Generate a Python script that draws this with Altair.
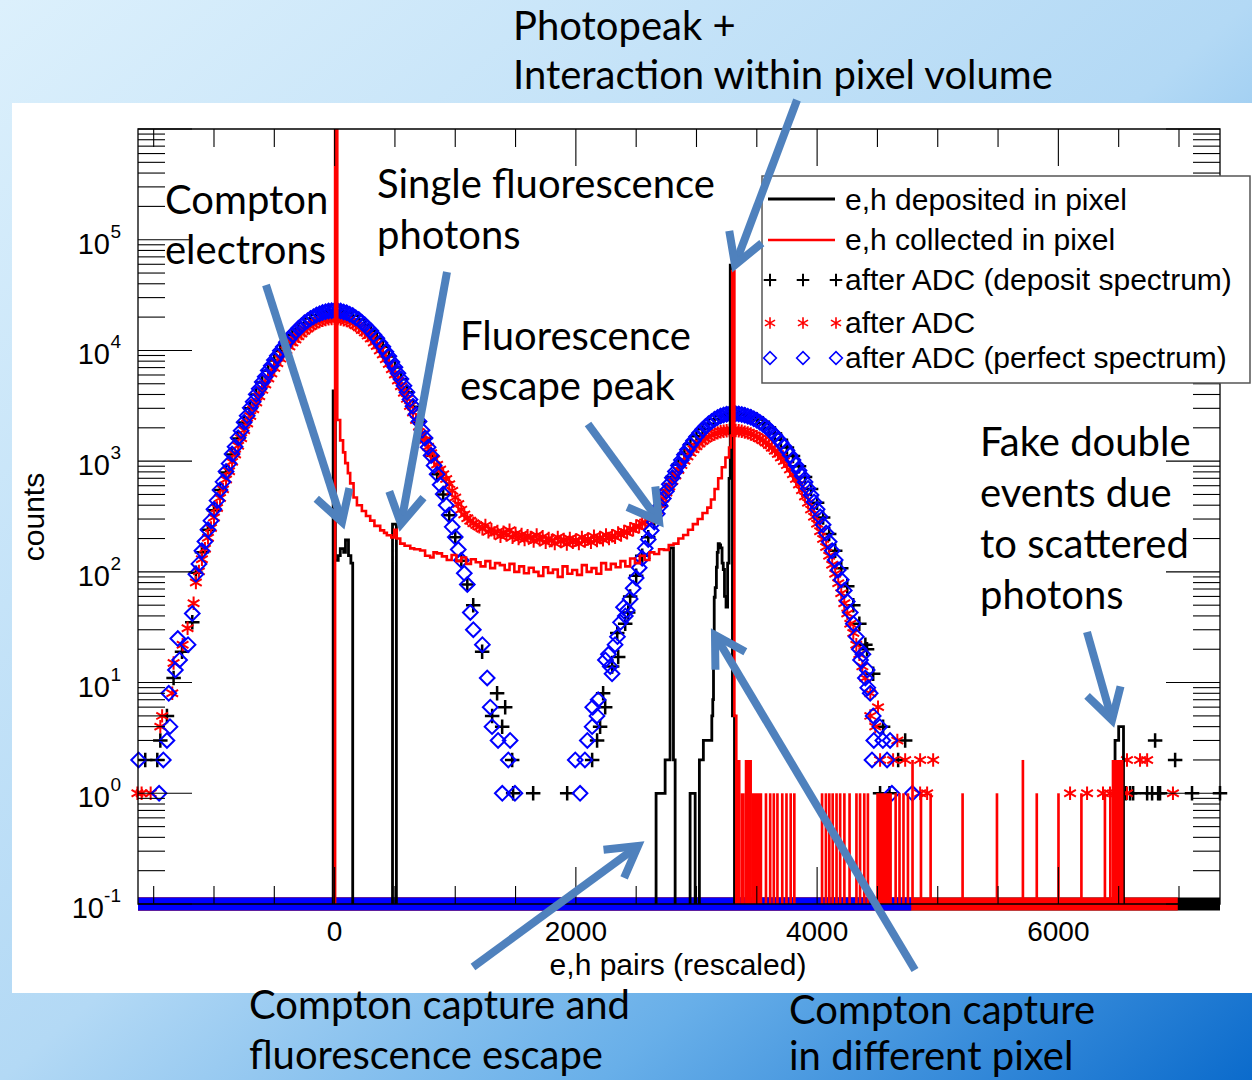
import math
import altair as alt
import pandas as pd

# ------------------------------------------------------------------
# Spectra (x: e,h pairs rescaled, y: counts)
# ------------------------------------------------------------------

# e,h deposited in pixel -- histogram bin left edges and counts
deposited_edges = [-1630, -12, 6, 30, 47, 75, 90, 115, 135, 150, 480, 512,
                   2665, 2740, 2781, 2809, 2823, 2947, 2989, 3024, 3057, 3127,
                   3135, 3141, 3147, 3155, 3165, 3172, 3180, 3190, 3200, 3212,
                   3222, 3232, 3245, 3258, 3270, 3280, 3298, 3315, 6470, 6500,
                   6540, 7340]
deposited_counts = [0, 4300, 127, 140, 162, 150, 194, 140, 120, 0, 270, 0,
                    1, 2, 165, 2, 0, 1, 0, 2, 3, 5,
                    7, 28, 59, 72, 110, 150, 180, 175, 165, 120,
                    105, 60, 48, 120, 700, 59000, 5, 0, 3, 4,
                    0, 0]

# e,h collected in pixel -- histogram bin left edges and counts
collected_edges = [-1630, 4, 22, 46, 70, 88, 110, 129, 157, 185, 226, 260, 295,
                   330, 378, 410, 433, 470, 495, 515, 544, 580, 627, 660, 709,
                   750, 792, 820, 848, 890, 930, 970, 1010, 1050, 1090, 1130,
                   1170, 1210, 1250, 1290, 1330, 1370, 1410, 1450, 1490, 1530,
                   1570, 1610, 1650, 1690, 1730, 1770, 1810, 1850, 1890, 1930,
                   1970, 2010, 2050, 2090, 2130, 2170, 2210, 2250, 2290, 2330,
                   2370, 2410, 2450, 2490, 2530, 2570, 2610, 2650, 2690, 2730,
                   2770, 2810, 2850, 2890, 2930, 2970, 3010, 3050, 3090, 3120,
                   3150, 3180, 3210, 3240, 3270, 3285, 3296, 3314, 3330, 7340]
collected_counts = [0, 2000000, 2350, 1540, 1200, 960, 780, 630, 470, 400, 355, 320, 290,
                    260, 237, 225, 214, 205, 240, 200, 180, 172, 163, 160, 156,
                    140, 135, 150, 147, 138, 128, 142, 125, 135, 118, 130,
                    122, 112, 125, 108, 120, 115, 104, 118, 100, 112,
                    97, 109, 100, 92, 110, 98, 105, 90, 112, 96,
                    104, 94, 115, 100, 108, 96, 120, 105, 118, 110,
                    125, 112, 132, 120, 140, 128, 150, 145, 160, 158,
                    175, 180, 200, 215, 240, 270, 300, 340, 380, 450,
                    560, 700, 880, 1080, 1330, 1700, 52000, 5, 0, 0]

# sparse single / double counts of the collected spectrum above the photopeak
grass_lo = [3330, 3365, 3400, 3460,
            3565, 3600, 3630, 3660, 3700, 3735, 3770, 3800,
            4030, 4062, 4090, 4118, 4150, 4180, 4215, 4258,
            4315, 4345, 4380, 4410,
            4490, 4640, 4672, 4705, 4742, 4780,
            4850, 4930, 5195, 5480, 5695, 5810, 5990, 6180, 6375, 6420, 6442]
grass_hi = [3365, 3400, 3460, 3545,
            3587, 3622, 3652, 3682, 3722, 3757, 3792, 3822,
            4052, 4084, 4112, 4140, 4172, 4202, 4237, 4280,
            4337, 4367, 4402, 4432,
            4620, 4662, 4694, 4727, 4764, 4802,
            4872, 4952, 5217, 5502, 5717, 5832, 6012, 6202, 6397, 6442, 6540]
grass_counts = [2, 1, 2, 1,
                1, 1, 1, 1, 1, 1, 1, 1,
                1, 1, 1, 1, 1, 1, 1, 1,
                1, 1, 1, 1,
                1, 1, 1, 1, 1, 2,
                1, 1, 1, 1, 2, 1, 1, 1, 1, 1, 2]

# after ADC (perfect spectrum)
perfect_x = [-1625, -1455, -1420, -1390, -1365, -1375, -1320, -1285, -1300, -1215, -1180,
             -1150, -1125, -1100, -1075, -1050, -1025, -1000, -975, -950, -925, -900,
             -875, -850, -825, -800, -775, -750, -725, -700, -675, -650, -625, -600,
             -575, -550, -525, -500, -475, -450, -425, -400, -375, -350, -325, -300,
             -275, -250, -225, -200, -175, -150, -125, -100, -75, -50, -25, 0,
             25, 50, 75, 100, 125, 150, 175, 200, 225, 250, 275, 300, 325, 350,
             375, 400, 425, 450, 475, 500, 525, 550, 575, 600, 625, 650, 675, 700,
             725, 750, 775, 800, 825, 850, 875, 900, 925, 950, 975, 1000, 1025,
             1050, 1075, 1100,
             1125, 1150, 1225, 1265, 1290, 1305, 1355, 1455, 1440, 1390, 1495,
             1995, 2035, 2075, 2095, 2135, 2140, 2175, 2185, 2245, 2270, 2285,
             2300, 2325, 2345, 2370, 2395, 2410,
             2425, 2450, 2475, 2500, 2525, 2550, 2575, 2600, 2625, 2650, 2675,
             2700, 2725, 2750, 2775, 2800, 2825, 2850, 2875, 2900, 2925, 2950,
             2975, 3000, 3025, 3050, 3075, 3100, 3125, 3150, 3175, 3200, 3225,
             3250, 3275, 3300, 3325, 3350, 3375, 3400, 3425, 3450, 3475, 3500,
             3525, 3550, 3575, 3600, 3625, 3650, 3675, 3700, 3725, 3750, 3775,
             3800, 3825, 3850, 3875, 3900, 3925, 3950, 3975, 4000, 4025, 4050,
             4075, 4100, 4125, 4150, 4175, 4200, 4225, 4250, 4275, 4300,
             4325, 4350, 4360, 4380, 4400, 4415, 4420, 4440, 4455, 4465, 4470,
             4520, 4545, 4580, 4605, 4620, 4790]
perfect_counts = [2, 1, 2, 3, 4, 8, 13, 16, 25, 22, 42,
                  95, 118, 155, 188, 240, 290, 368, 440, 550, 650, 805,
                  950, 1160, 1350, 1630, 1880, 2250, 2570, 3030, 3440, 4010, 4500, 5190,
                  5780, 6580, 7260, 8180, 8940, 9950, 10780, 11860, 12730, 13850, 14720, 15830,
                  16680, 17740, 18500, 19460, 20110, 20920, 21400, 22030, 22330, 22720, 22800, 22950,
                  22790, 22680, 22260, 21890, 21230, 20640, 19780, 19010, 17990, 17100, 15980, 15020, 13870, 12890,
                  11760, 10790, 9730, 8840, 7870, 7060, 6210, 5510, 4790, 4200, 3610, 3130, 2650, 2280,
                  1900, 1620, 1335, 1125, 915, 762, 612, 504, 400, 327, 255, 206, 159,
                  127, 97, 77,
                  43, 30, 22, 11, 6, 4, 3, 3, 2, 1, 1,
                  2, 1, 2, 3, 4, 6, 5, 7, 16, 18, 14,
                  12, 22, 26, 35, 48, 40,
                  45, 57, 71, 88, 109, 133, 163, 196, 236, 282, 334,
                  394, 460, 535, 618, 708, 807, 912, 1026, 1145, 1270, 1400,
                  1531, 1663, 1798, 1928, 2055, 2173, 2285, 2388, 2477, 2553, 2612,
                  2655, 2683, 2692, 2685, 2668, 2641, 2600, 2550, 2489, 2417, 2336,
                  2247, 2150, 2046, 1938, 1826, 1711, 1594, 1476, 1360, 1246, 1134,
                  1026, 923, 825, 733, 647, 567, 494, 427, 367, 314, 266,
                  224, 187, 155, 128, 104, 85, 68, 54, 43, 34,
                  26, 20, 16, 18, 11, 13, 9, 8, 2, 5, 3,
                  4, 3, 2, 3, 1, 1]

# after ADC (collected spectrum)
collected_adc_x = [-1635, -1600, -1525, -1445, -1430, -1346, -1335, -1260, -1219, -1169,
                   -1150, -1125, -1100, -1075, -1050, -1025, -1000, -975, -950, -925, -900,
                   -875, -850, -825, -800, -775, -750, -725, -700, -675, -650, -625, -600,
                   -575, -550, -525, -500, -475, -450, -425, -400, -375, -350, -325, -300,
                   -275, -250, -225, -200, -175, -150, -125, -100, -75, -50, -25, 0,
                   25, 50, 75, 100, 125, 150, 175, 200, 225, 250, 275, 300, 325, 350,
                   375, 400, 425, 450, 475, 500, 525, 550, 575, 600, 625, 650, 675, 700,
                   725, 750, 775, 800, 825, 850, 875, 900, 925, 950, 975, 1000, 1025,
                   1050, 1075, 1100, 1125, 1150, 1175, 1200,
                   1225, 1250, 1275, 1300, 1325, 1350, 1375, 1400, 1425, 1450, 1475,
                   1500, 1525, 1550, 1575, 1600, 1625, 1650, 1675, 1700, 1725, 1750,
                   1775, 1800, 1825, 1850, 1875, 1900, 1925, 1950, 1975, 2000, 2025,
                   2050, 2075, 2100, 2125, 2150, 2175, 2200, 2225, 2250, 2275, 2300,
                   2325, 2350, 2375, 2400, 2425, 2450, 2475, 2500, 2525, 2550, 2575,
                   2600, 2625, 2650, 2675, 2700, 2725, 2750, 2775, 2800, 2825, 2850,
                   2875, 2900, 2925, 2950, 2975, 3000, 3025, 3050, 3075, 3100, 3125,
                   3150, 3175, 3200, 3225, 3250, 3275, 3300, 3325, 3350, 3375, 3400,
                   3425, 3450, 3475, 3500, 3525, 3550, 3575, 3600, 3625, 3650, 3675,
                   3700, 3725, 3750, 3775, 3800, 3825, 3850, 3875, 3900, 3925, 3950,
                   3975, 4000, 4025, 4050, 4075, 4100, 4125, 4150, 4175, 4200, 4225,
                   4250, 4275, 4300, 4325, 4350, 4375, 4400,
                   4441, 4441, 4482, 4505, 4522, 4630, 4665, 4730, 4854, 4854, 4912, 4962,
                   6097, 6238, 6370, 6428, 6486, 6569, 6569, 6677, 6736, 6950]
collected_adc_counts = [1, 1, 1, 4, 5, 8, 15, 22, 31, 52,
                        80, 101, 130, 162, 203, 249, 310, 377, 465, 556, 682,
                        810, 985, 1150, 1380, 1610, 1900, 2190, 2560, 2940, 3390, 3850, 4400,
                        4930, 5570, 6200, 6930, 7640, 8430, 9200, 10050, 10850, 11800, 12550, 13400,
                        14200, 15050, 15750, 16500, 17150, 17750, 18250, 18700, 19000, 19300, 19400, 19500,
                        19400, 19250, 18950, 18600, 18100, 17550, 16850, 16150, 15300, 14550, 13600, 12800, 11800, 10950,
                        10000, 9200, 8300, 7550, 6750, 6050, 5350, 4750, 4150, 3650, 3150, 2750, 2350, 2050,
                        1750, 1550, 1350, 1180, 1040, 930, 840, 760, 690, 620, 540, 470, 410,
                        365, 330, 305, 290, 275, 265, 255,
                        245, 262, 230, 240, 225, 232, 210, 228, 215, 238, 205,
                        222, 200, 218, 196, 212, 205, 190, 215, 195, 208, 185,
                        200, 192, 180, 205, 188, 196, 178, 200, 185, 194, 180,
                        205, 190, 198, 185, 210, 192, 204, 195, 215, 200, 212,
                        205, 225, 215, 232, 225, 245, 240, 260, 255, 275, 280,
                        295, 305, 330, 360, 405, 460, 520, 590, 660, 740, 830,
                        920, 1010, 1100, 1190, 1280, 1360, 1440, 1520, 1590, 1650, 1710,
                        1760, 1800, 1840, 1860, 1880, 1890, 1900, 1890, 1880, 1860, 1830,
                        1800, 1760, 1710, 1660, 1600, 1540, 1470, 1400, 1320, 1240, 1160,
                        1080, 1000, 920, 840, 760, 690, 615, 545, 480, 420, 365,
                        315, 272, 233, 198, 168, 140, 116, 96, 79, 64, 52,
                        42, 34, 28, 22, 18, 14, 11,
                        8, 5, 4, 6, 2, 2, 3, 2, 2, 1, 1, 2,
                        1, 1, 1, 1, 1, 1, 2, 2, 2, 1]

# after ADC (deposit spectrum)
deposit_adc_x = [-1570, -1470, -1445, -1390, -1335, -1265, -1180,
                 -1150, -1100, -1050, -1000, -950, -900, -850, -800, -750, -700, -650,
                 -600, -550, -500, -450, -400, -350, -300, -250, -200, -150, -100, -50,
                 0, 50, 100, 150, 200, 250, 300, 350, 400, 450, 500, 550, 600, 650,
                 700, 750, 800, 850, 900, 950, 1000, 1050, 1100,
                 1149, 1223, 1306, 1347, 1389, 1414, 1472, 1480, 1646, 1928,
                 2135, 2176, 2201, 2226, 2243, 2301, 2343, 2351, 2409, 2434,
                 2450, 2500, 2550, 2600, 2650, 2700, 2750, 2800, 2850, 2900, 2950,
                 3000, 3050, 3100, 3150, 3200, 3250, 3300, 3350, 3400, 3450, 3500,
                 3550, 3600, 3650, 3700, 3750, 3800, 3850, 3900, 3950, 4000, 4050,
                 4100, 4150, 4200, 4250, 4300, 4350, 4400,
                 4414, 4465, 4547, 4672, 4730, 4522, 4600,
                 6560, 6595, 6620, 6736, 6777, 6802, 6827, 6843, 6968, 7108, 7340]
deposit_adc_counts = [2, 2, 3, 5, 11, 19, 35,
                      98, 150, 240, 360, 550, 790, 1150, 1600, 2230, 3000, 3990,
                      5140, 6560, 8100, 9900, 11800, 13800, 15700, 17700, 19400, 20900, 22000, 22700,
                      22900, 22600, 21900, 20600, 19000, 17000, 15000, 12800, 10800, 8800, 7000, 5500, 4200, 3100,
                      2270, 1600, 1120, 760, 500, 325, 205, 126, 77,
                      50, 19, 5, 8, 4, 6, 2, 1, 1, 1,
                      2, 3, 4, 8, 6, 14, 28, 17, 34, 43,
                      60, 92, 140, 205, 290, 400, 550, 720, 930, 1160, 1420,
                      1680, 1940, 2180, 2400, 2560, 2660, 2700, 2680, 2620, 2520, 2380,
                      2200, 2000, 1780, 1560, 1330, 1110, 900, 720, 560, 420, 310,
                      220, 155, 108, 74, 50, 34, 22,
                      20, 12, 4, 2, 3, 1, 1,
                      1, 1, 1, 1, 1, 3, 1, 1, 2, 1, 1]

# upper end of the run of empty bins drawn on the floor of the log axis
perfect_floor_end = 4780
collected_adc_floor_end = 6990
deposit_adc_floor_end = 7340

# axis ticks
x_tick_values = list(range(-1500, 7001, 500))
x_label_values = [0, 2000, 4000, 6000]
y_label_exponents = [-1, 0, 1, 2, 3, 4, 5]

# ------------------------------------------------------------------
# Layout
# ------------------------------------------------------------------
W, H = 1082, 775
PAD_L, PAD_T = 138, 129
CANVAS_W, CANVAS_H = 1252, 1080
X_MIN, X_MAX = -1630, 7340

AX_FONT = "Liberation Sans"
NOTE_FONT = "Lato"
ARROW_BLUE = "#4f81bd"
RED = "#ff0000"
BLUE = "#0000ff"

xscale = alt.Scale(domain=[X_MIN, X_MAX], nice=False, zero=False)
yscale = alt.Scale(type="log", domain=[0.1, 1e6], nice=False)

CROSS = "M-1,0L1,0M0,-1L0,1"
STAR = "M0,-1L0,1M-0.87,-0.5L0.87,0.5M-0.87,0.5L0.87,-0.5"
CHEVRON = "M-0.58,1L0,0L0.58,1"

CROSS_STYLE = dict(shape=CROSS, size=210, strokeWidth=2.5, color="black")
STAR_STYLE = dict(shape=STAR, size=180, strokeWidth=2.0, color=RED)
DIAMOND_STYLE = dict(shape="diamond", size=215, strokeWidth=2.0, color=BLUE)


def cx(v):
    return v - PAD_L


def cy(v):
    return v - PAD_T


one_row = pd.DataFrame({"k": [0]})
XD = lambda f: alt.X(f, scale=xscale, axis=None)
YD = lambda f: alt.Y(f, scale=yscale, axis=None)
XP = lambda f: alt.X(f, scale=None, axis=None)
YP = lambda f: alt.Y(f, scale=None, axis=None)

layers = []

# slide background and white panel
layers.append(
    alt.Chart(one_row).mark_rect(
        color=alt.LinearGradient(
            gradient="linear",
            stops=[alt.GradientStop(color="#dcf0fc", offset=0),
                   alt.GradientStop(color="#b3d9f5", offset=0.5),
                   alt.GradientStop(color="#68afe9", offset=0.74),
                   alt.GradientStop(color="#0b6bcc", offset=1)],
            x1=0, y1=0, x2=1, y2=1)
    ).encode(x=alt.value(cx(0)), x2=alt.value(cx(CANVAS_W)),
             y=alt.value(cy(0)), y2=alt.value(cy(CANVAS_H)))
)
layers.append(
    alt.Chart(one_row).mark_rect(color="white").encode(
        x=alt.value(cx(12)), x2=alt.value(cx(CANVAS_W)),
        y=alt.value(cy(103)), y2=alt.value(cy(993)))
)

# empty bins collapse onto the bottom of the log axis
floor_df = pd.DataFrame({"x0": [X_MIN] * 3,
                         "x1": [deposit_adc_floor_end, collected_adc_floor_end, perfect_floor_end],
                         "series": ["deposit", "collected", "perfect"]})
for name, col in [("deposit", "black"), ("collected", RED), ("perfect", BLUE)]:
    layers.append(
        alt.Chart(floor_df).transform_filter(alt.datum.series == name)
        .mark_rule(color=col, strokeWidth=13)
        .encode(x=XD("x0:Q"), x2="x1:Q", y=alt.value(H))
    )

# after-ADC markers
dep_df = pd.DataFrame({"x": deposit_adc_x, "count": deposit_adc_counts})
col_df = pd.DataFrame({"x": collected_adc_x, "count": collected_adc_counts})
per_df = pd.DataFrame({"x": perfect_x, "count": perfect_counts})

for df, style in [(dep_df, CROSS_STYLE), (col_df, STAR_STYLE), (per_df, DIAMOND_STYLE)]:
    layers.append(alt.Chart(df).mark_point(filled=False, opacity=1, **style)
                  .encode(x=XD("x:Q"), y=YD("count:Q")))

# histogram lines
depl_df = pd.DataFrame({"x": deposited_edges, "count": deposited_counts})
coll_df = pd.DataFrame({"x": collected_edges, "count": collected_counts})
grass_df = pd.DataFrame({"lo": grass_lo, "hi": grass_hi, "count": grass_counts})

layers.append(
    alt.Chart(depl_df).transform_calculate(yv="max(datum.count, 0.05)")
    .mark_line(interpolate="step-after", clip=True, strokeWidth=2.8, color="black")
    .encode(x=XD("x:Q"), y=YD("yv:Q"), order="x:Q")
)
layers.append(
    alt.Chart(grass_df).mark_rect(color=RED, clip=True)
    .encode(x=XD("lo:Q"), x2="hi:Q", y=YD("count:Q"), y2=alt.value(H))
)
layers.append(
    alt.Chart(coll_df).transform_calculate(yv="max(datum.count, 0.05)")
    .mark_line(interpolate="step-after", clip=True, strokeWidth=2.6, color=RED)
    .encode(x=XD("x:Q"), y=YD("yv:Q"), order="x:Q")
)

# tick marks on all four sides, pointing inwards
xt = pd.DataFrame({"v": x_tick_values})
layers.append(
    alt.Chart(xt).transform_calculate(len="datum.v % 2000 == 0 ? 37 : 18",
                                      a=str(H), b=f"{H} - datum.len")
    .mark_rule(color="black", strokeWidth=1.1)
    .encode(x=XD("v:Q"), y=YP("a:Q"), y2="b:Q")
)
layers.append(
    alt.Chart(xt).transform_calculate(len="datum.v % 2000 == 0 ? 37 : 18", a="0", b="datum.len")
    .mark_rule(color="black", strokeWidth=1.1)
    .encode(x=XD("v:Q"), y=YP("a:Q"), y2="b:Q")
)
y_tick_values = [m * 10.0 ** k for k in range(-1, 6) for m in range(1, 10)] + [1e6]
yt = pd.DataFrame({"v": y_tick_values})
major_test = "abs(log(datum.v)/LN10 - round(log(datum.v)/LN10)) < 1e-6"
layers.append(
    alt.Chart(yt).transform_calculate(len=f"{major_test} ? 54 : 27", a="0", b="datum.len")
    .mark_rule(color="black", strokeWidth=1.1)
    .encode(y=YD("v:Q"), x=XP("a:Q"), x2="b:Q")
)
layers.append(
    alt.Chart(yt).transform_calculate(len=f"{major_test} ? 54 : 27", a=str(W), b=f"{W} - datum.len")
    .mark_rule(color="black", strokeWidth=1.1)
    .encode(y=YD("v:Q"), x=XP("a:Q"), x2="b:Q")
)

# plot frame
layers.append(
    alt.Chart(one_row).mark_rect(filled=False, stroke="black", strokeWidth=1.3, fillOpacity=0)
    .encode(x=alt.value(0), x2=alt.value(W), y=alt.value(0), y2=alt.value(H))
)

# axis labels
xl = pd.DataFrame({"v": x_label_values})
layers.append(
    alt.Chart(xl).transform_calculate(lab="format(datum.v, 'd')")
    .mark_text(font=AX_FONT, fontSize=28, baseline="alphabetic", align="center", color="black")
    .encode(x=XD("v:Q"), y=alt.value(cy(941)), text="lab:N")
)
yl = pd.DataFrame({"e": y_label_exponents})
layers.append(
    alt.Chart(yl).transform_calculate(v="pow(10, datum.e)",
                                      bx=f"datum.e < 0 ? {cx(104)} : {cx(110)}", t="'10'")
    .mark_text(font=AX_FONT, fontSize=29, baseline="alphabetic", align="right", dy=14, color="black")
    .encode(x=XP("bx:Q"), y=YD("v:Q"), text="t:N")
)
layers.append(
    alt.Chart(yl).transform_calculate(v="pow(10, datum.e)", t="toString(datum.e)")
    .mark_text(font=AX_FONT, fontSize=19, baseline="alphabetic", align="right", dy=-2, color="black")
    .encode(x=alt.value(cx(121)), y=YD("v:Q"), text="t:N")
)
axis_titles = pd.DataFrame({"px": [cx(678), cx(35)], "py": [cy(966), cy(517)],
                            "t": ["e,h pairs (rescaled)", "counts"], "ang": [0, 270]})
layers.append(
    alt.Chart(axis_titles).mark_text(font=AX_FONT, fontSize=30, baseline="middle", align="center",
                                     color="black")
    .encode(x=XP("px:Q"), y=YP("py:Q"), text="t:N", angle=alt.Angle("ang:Q", scale=None))
)

# legend
layers.append(
    alt.Chart(one_row).mark_rect(fill="white", stroke="#555555", strokeWidth=1.5)
    .encode(x=alt.value(cx(762)), x2=alt.value(cx(1250)), y=alt.value(cy(176)), y2=alt.value(cy(383)))
)
leg_lines = pd.DataFrame({"x0": [cx(768)] * 2, "x1": [cx(835)] * 2, "y": [cy(199), cy(240)],
                          "kind": ["deposited", "collected"]})
for kind, col, sw in [("deposited", "black", 2.8), ("collected", RED, 2.6)]:
    layers.append(
        alt.Chart(leg_lines).transform_filter(alt.datum.kind == kind)
        .mark_rule(color=col, strokeWidth=sw)
        .encode(x=XP("x0:Q"), x2="x1:Q", y=YP("y:Q"))
    )
leg_px = [cx(770), cx(803), cx(836)]
for yy, style in [(280, CROSS_STYLE), (323, STAR_STYLE), (358, DIAMOND_STYLE)]:
    s = dict(style)
    s["size"] = s["size"] * 0.75
    s["strokeWidth"] = s["strokeWidth"] * 0.8
    layers.append(
        alt.Chart(pd.DataFrame({"px": leg_px, "py": [cy(yy)] * 3}))
        .mark_point(filled=False, opacity=1, **s)
        .encode(x=XP("px:Q"), y=YP("py:Q"))
    )
leg_text = pd.DataFrame({
    "px": [cx(845)] * 5,
    "py": [cy(210), cy(250), cy(290), cy(333), cy(368)],
    "t": ["e,h deposited in pixel", "e,h collected in pixel",
          "after ADC (deposit spectrum)", "after ADC", "after ADC (perfect spectrum)"],
})
layers.append(
    alt.Chart(leg_text).mark_text(font=AX_FONT, fontSize=30, baseline="alphabetic", align="left",
                                  color="black")
    .encode(x=XP("px:Q"), y=YP("py:Q"), text="t:N")
)

# annotations
notes = [
    ("Photopeak +", 513, 40),
    ("Interaction within pixel volume", 513, 89),
    ("Compton", 165, 214),
    ("electrons", 165, 264),
    ("Single fluorescence", 377, 198),
    ("photons", 377, 249),
    ("Fluorescence", 460, 350),
    ("escape peak", 460, 400),
    ("Fake double", 980, 456),
    ("events due", 980, 507),
    ("to scattered", 980, 558),
    ("photons", 980, 609),
    ("Compton capture and", 249, 1019),
    ("fluorescence escape", 249, 1069),
    ("Compton capture", 789, 1024),
    ("in different pixel", 789, 1070),
]
notes_df = pd.DataFrame({"t": [n[0] for n in notes],
                         "px": [cx(n[1]) for n in notes],
                         "py": [cy(n[2]) for n in notes]})
layers.append(
    alt.Chart(notes_df).mark_text(font=NOTE_FONT, fontSize=40, baseline="alphabetic", align="left",
                                  color="black")
    .encode(x=XP("px:Q"), y=YP("py:Q"), text="t:N")
)

arrows = [  # tail (x, y) -> head (x, y), slide pixels
    (797, 100, 735, 265),
    (266, 285, 342, 522),
    (447, 272, 401, 524),
    (588, 424, 659, 521),
    (1087, 632, 1112, 720),
    (473, 967, 638, 846),
    (915, 970, 715, 635),
]
arr_df = pd.DataFrame({
    "x0": [cx(a[0]) for a in arrows], "y0": [cy(a[1]) for a in arrows],
    "x1": [cx(a[2]) for a in arrows], "y1": [cy(a[3]) for a in arrows],
    "ang": [(math.degrees(math.atan2(a[2] - a[0], -(a[3] - a[1]))) + 360) % 360 for a in arrows],
})
layers.append(
    alt.Chart(arr_df).mark_rule(color=ARROW_BLUE, strokeWidth=8, strokeCap="butt")
    .encode(x=XP("x0:Q"), y=YP("y0:Q"), x2="x1:Q", y2="y1:Q")
)
layers.append(
    alt.Chart(arr_df).mark_point(shape=CHEVRON, size=3600, filled=False, opacity=1, strokeWidth=8,
                                 color=ARROW_BLUE, strokeJoin="miter", strokeCap="butt")
    .encode(x=XP("x1:Q"), y=YP("y1:Q"), angle=alt.Angle("ang:Q", scale=None))
)

chart = (
    alt.layer(*layers)
    .properties(width=W, height=H,
                padding={"left": PAD_L, "top": PAD_T, "right": CANVAS_W - PAD_L - W,
                         "bottom": CANVAS_H - PAD_T - H},
                autosize=alt.AutoSizeParams(type="none"))
    .configure_view(stroke=None, fill=None)
    .configure(background="white")
)

chart.save("out.html", embed_options={"renderer": "svg", "actions": False})
